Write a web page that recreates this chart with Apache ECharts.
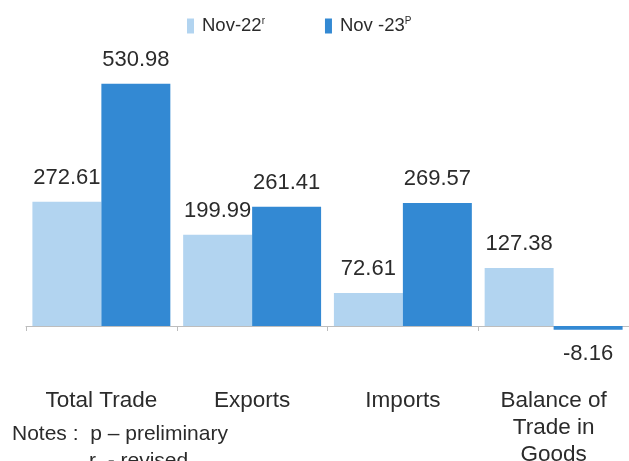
<!DOCTYPE html>
<html>
<head>
<meta charset="utf-8">
<title>Merchandise trade: Nov-22 vs Nov-23</title>
<script src="https://cdn.jsdelivr.net/npm/echarts@6/dist/echarts.min.js"></script>
<style>
  html, body { margin: 0; padding: 0; background: #ffffff; }
  #chart { width: 629px; height: 461px; }
</style>
</head>
<body>
<div id="chart"></div>
<script>
// Categories shown along the x axis
const categories = ['Total Trade', 'Exports', 'Imports', 'Balance of\nTrade in\nGoods'];

// Series names and their superscript marks (r = revised, P = preliminary)
const seriesNames = ['Nov-22', 'Nov -23'];
const seriesMarks = ['r', 'P'];

// Values (US$ billion)
const nov22 = [272.61, 199.99, 72.61, 127.38];
const nov23 = [530.98, 261.41, 269.57, -8.16];

const FONT = '"Liberation Sans", Arial, Helvetica, sans-serif';
const TEXT = '#2b2b2b';
const colors = ['#b2d4f0', '#3389d3'];

// negative bars get their label underneath
function toItems(values) {
  return values.map(v => v < 0 ? { value: v, label: { position: 'bottom' } } : v);
}

function makeSeries(idx, values) {
  return {
    name: seriesNames[idx],
    type: 'bar',
    data: toItems(values),
    barGap: '0%',
    barCategoryGap: '8.5%',
    itemStyle: { color: colors[idx] },
    label: {
      show: true,
      position: 'top',
      distance: 13,
      color: TEXT,
      fontFamily: FONT,
      fontSize: 22,
      formatter: p => Number(p.value).toFixed(2)
    }
  };
}

const chart = echarts.init(document.getElementById('chart'), null, { renderer: 'canvas' });

chart.setOption({
  backgroundColor: '#ffffff',
  animation: false,
  legend: {
    left: 187,
    top: 16,
    padding: 0,
    itemWidth: 7,
    itemHeight: 15,
    itemGap: 60,
    icon: 'rect',
    data: seriesNames,
    formatter: name => name + '{sup|' + seriesMarks[seriesNames.indexOf(name)] + '}',
    textStyle: {
      color: TEXT,
      fontFamily: FONT,
      fontSize: 18.5,
      lineHeight: 20,
      padding: [0, 0, 0, 3],
      rich: {
        sup: { fontSize: 10, fontFamily: FONT, color: TEXT, verticalAlign: 'top', lineHeight: 10 }
      }
    }
  },
  grid: {
    left: 26, right: 0, top: 52.4, bottom: 112.2,
    containLabel: false,
    outerBoundsMode: 'none'
  },
  xAxis: {
    type: 'category',
    data: categories,
    axisLine: { show: true, onZero: true, lineStyle: { color: '#bdbdbd', width: 1 } },
    axisTick: { show: true, length: 5, alignWithLabel: false, lineStyle: { color: '#bdbdbd' } },
    axisLabel: {
      margin: 38.5,
      interval: 0,
      color: TEXT,
      fontFamily: FONT,
      fontSize: 22.5,
      lineHeight: 27
    }
  },
  yAxis: {
    type: 'value',
    min: -50,
    max: 600,
    show: false,
    splitLine: { show: false }
  },
  series: [makeSeries(0, nov22), makeSeries(1, nov23)],
  graphic: [
    {
      type: 'text', left: 12, top: 424,
      style: { text: 'Notes :  p \u2013 preliminary', fill: TEXT, font: '21px ' + FONT }
    },
    {
      type: 'text', left: 89, top: 451,
      style: { text: 'r  - revised', fill: TEXT, font: '21px ' + FONT }
    }
  ]
});
</script>
</body>
</html>
